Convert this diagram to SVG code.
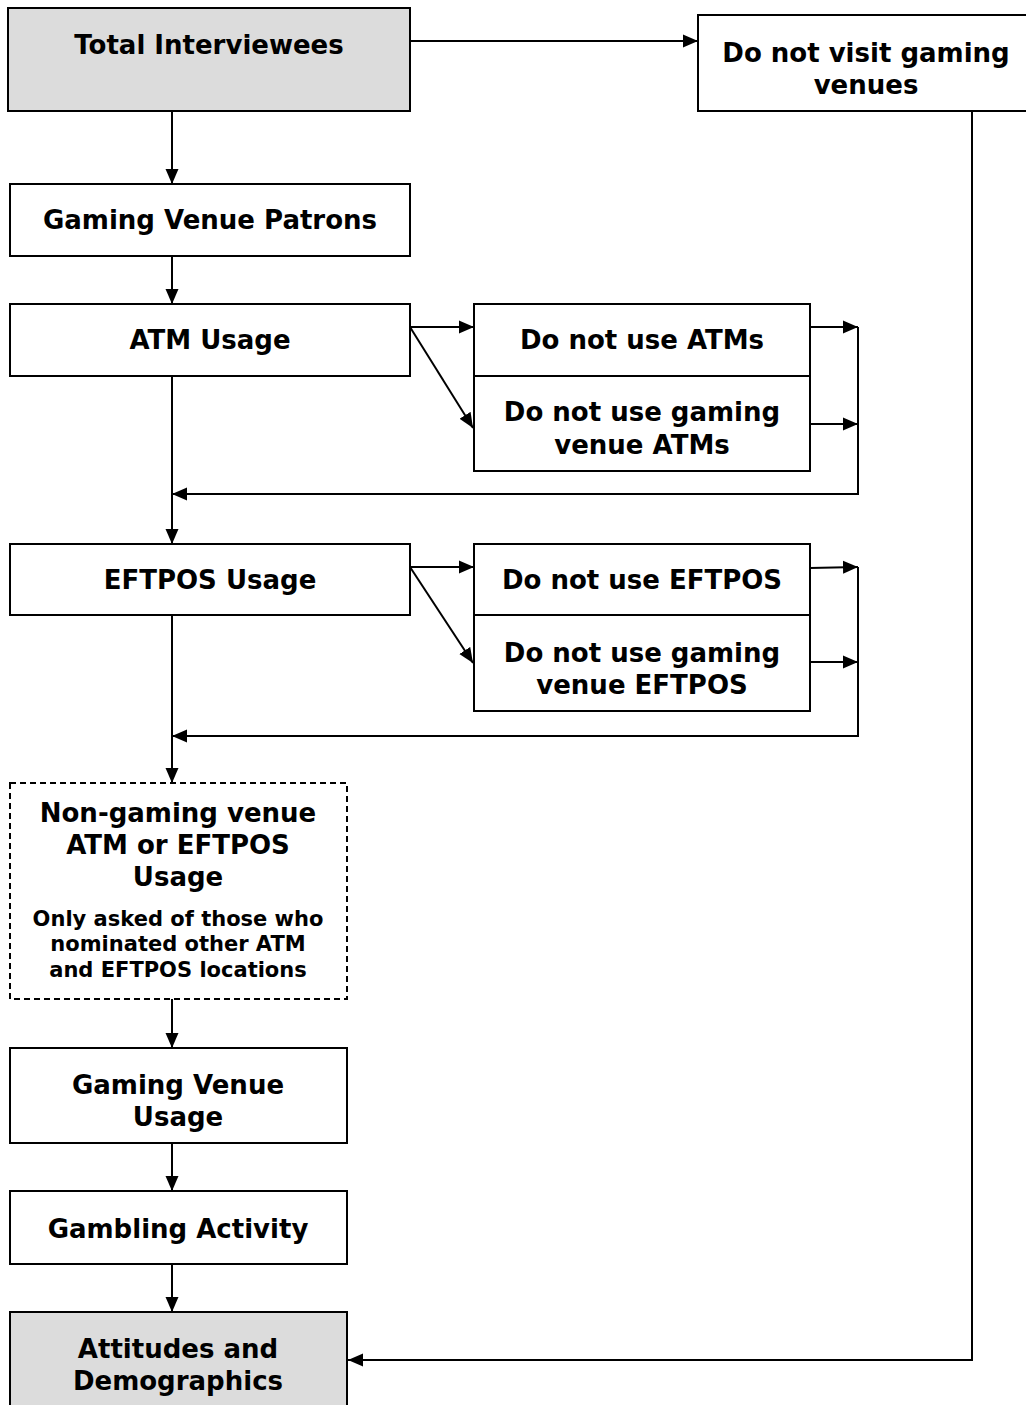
<svg xmlns="http://www.w3.org/2000/svg" width="1026" height="1405" viewBox="0 0 1026 1405">
<style>
.box{fill:#ffffff;stroke:#000000;stroke-width:2}
.grey{fill:#dcdcdc;stroke:#000000;stroke-width:2}
.dash{fill:#ffffff;stroke:#000000;stroke-width:2;stroke-dasharray:6 4}
.t{font-family:"DejaVu Sans","Verdana",sans-serif;font-weight:bold;font-size:26px;fill:#000000;text-anchor:middle}
.s{font-family:"DejaVu Sans","Verdana",sans-serif;font-weight:bold;font-size:21px;fill:#000000;text-anchor:middle}
.c{fill:none;stroke:#000000;stroke-width:2}
</style>
<defs>
<marker id="ah" markerUnits="userSpaceOnUse" markerWidth="16" markerHeight="14" refX="15" refY="7" orient="auto">
<path d="M0,0.5 L15,7 L0,13.5 Z" fill="#000000"/>
</marker>
</defs>
<rect width="1026" height="1405" fill="#ffffff"/>
<g id="connectors">
<line class="c" x1="410" y1="41" x2="698" y2="41" marker-end="url(#ah)"/>
<line class="c" x1="172" y1="111" x2="172" y2="184" marker-end="url(#ah)"/>
<line class="c" x1="172" y1="256" x2="172" y2="304" marker-end="url(#ah)"/>
<line class="c" x1="410" y1="327" x2="474" y2="327" marker-end="url(#ah)"/>
<line class="c" x1="410" y1="327" x2="473" y2="428" marker-end="url(#ah)"/>
<line class="c" x1="810" y1="327" x2="858" y2="327" marker-end="url(#ah)"/>
<line class="c" x1="810" y1="424" x2="858" y2="424" marker-end="url(#ah)"/>
<polyline class="c" points="858,327 858,494 172,494" marker-end="url(#ah)"/>
<line class="c" x1="172" y1="376" x2="172" y2="544" marker-end="url(#ah)"/>
<line class="c" x1="410" y1="567" x2="474" y2="567" marker-end="url(#ah)"/>
<line class="c" x1="410" y1="567" x2="473" y2="663" marker-end="url(#ah)"/>
<line class="c" x1="810" y1="568" x2="858" y2="567" marker-end="url(#ah)"/>
<line class="c" x1="808" y1="662" x2="858" y2="662" marker-end="url(#ah)"/>
<polyline class="c" points="858,567 858,736 172,736" marker-end="url(#ah)"/>
<line class="c" x1="172" y1="615" x2="172" y2="783" marker-end="url(#ah)"/>
<line class="c" x1="172" y1="999" x2="172" y2="1048" marker-end="url(#ah)"/>
<line class="c" x1="172" y1="1143" x2="172" y2="1191" marker-end="url(#ah)"/>
<line class="c" x1="172" y1="1264" x2="172" y2="1312" marker-end="url(#ah)"/>
<polyline class="c" points="972,111 972,1360 348,1360" marker-end="url(#ah)"/>
</g>
<g id="total">
<rect class="grey" x="8" y="8" width="402" height="103"/>
<text class="t" x="209" y="54">Total Interviewees</text>
</g>
<g id="novisit">
<rect class="box" x="698" y="15" width="340" height="96"/>
<text class="t" x="866" y="62">Do not visit gaming</text>
<text class="t" x="866" y="94">venues</text>
</g>
<g id="patrons">
<rect class="box" x="10" y="184" width="400" height="72"/>
<text class="t" x="210" y="229">Gaming Venue Patrons</text>
</g>
<g id="atm">
<rect class="box" x="10" y="304" width="400" height="72"/>
<text class="t" x="210" y="349">ATM Usage</text>
</g>
<g id="noatm">
<rect class="box" x="474" y="304" width="336" height="72"/>
<text class="t" x="642" y="349">Do not use ATMs</text>
</g>
<g id="novenueatm">
<rect class="box" x="474" y="376" width="336" height="95"/>
<text class="t" x="642" y="421">Do not use gaming</text>
<text class="t" x="642" y="454">venue ATMs</text>
</g>
<g id="eftpos">
<rect class="box" x="10" y="544" width="400" height="71"/>
<text class="t" x="210" y="589">EFTPOS Usage</text>
</g>
<g id="noeftpos">
<rect class="box" x="474" y="544" width="336" height="71"/>
<text class="t" x="642" y="589">Do not use EFTPOS</text>
</g>
<g id="novenueeftpos">
<rect class="box" x="474" y="615" width="336" height="96"/>
<text class="t" x="642" y="662">Do not use gaming</text>
<text class="t" x="642" y="694">venue EFTPOS</text>
</g>
<g id="nongaming">
<rect class="dash" x="10" y="783" width="337" height="216"/>
<text class="t" x="178" y="822">Non-gaming venue</text>
<text class="t" x="178" y="854">ATM or EFTPOS</text>
<text class="t" x="178" y="886">Usage</text>
<text class="s" x="178" y="926">Only asked of those who</text>
<text class="s" x="178" y="951">nominated other ATM</text>
<text class="s" x="178" y="977">and EFTPOS locations</text>
</g>
<g id="venueusage">
<rect class="box" x="10" y="1048" width="337" height="95"/>
<text class="t" x="178" y="1094">Gaming Venue</text>
<text class="t" x="178" y="1126">Usage</text>
</g>
<g id="gambling">
<rect class="box" x="10" y="1191" width="337" height="73"/>
<text class="t" x="178" y="1238">Gambling Activity</text>
</g>
<g id="attitudes">
<rect class="grey" x="10" y="1312" width="337" height="100"/>
<text class="t" x="178" y="1358">Attitudes and</text>
<text class="t" x="178" y="1390">Demographics</text>
</g>
</svg>
